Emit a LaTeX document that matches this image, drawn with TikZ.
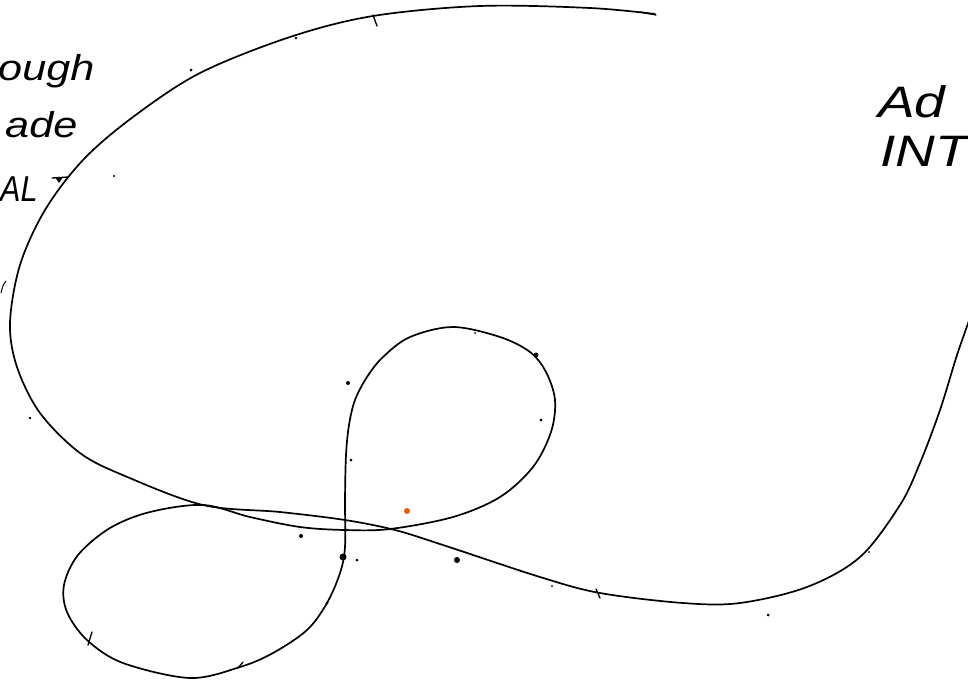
\documentclass[tikz,border=0pt]{standalone}
\usepackage{fontspec}
\setmainfont{Liberation Sans}
\begin{document}
\begin{tikzpicture}[x=1pt,y=-1pt,
  curve/.style={line width=1.7pt, line cap=round, line join=round},
  tickmark/.style={line width=1.3pt, line cap=round},
  hand/.style={inner sep=0pt, font=\itshape\fontsize{36}{40}\selectfont, xscale=1.2},
  handnarrow/.style={inner sep=0pt, font=\itshape\fontsize{36}{40}\selectfont, xscale=0.85},
  handbig/.style={inner sep=0pt, font=\itshape\fontsize{44}{48}\selectfont, xscale=1.25},
  speck/.style={fill=black}]
\clip (0,0) rectangle (968,683);
\fill[white] (0,0) rectangle (968,683);

% outer curve
\draw[curve] plot[smooth, tension=0.55] coordinates {(655,14) (590,8) (480,6) (373,16) (290,37) (200,73) (133,117) (83,160) (45,210) (20,265) (10,323) (17,367) (40,413) (80,453) (125,476) (203,505) (280,512) (345,520) (395,530) (443,545) (540,577) (600,593) (683,603) (740,603) (807,587) (860,557) (900,505) (920,463) (940,410) (957,355) (970,318)};

% figure-eight
\draw[curve] plot[smooth cycle, tension=0.55] coordinates {(203,505) (250,517) (300,527) (345,530) (390,529) (453,517) (500,497) (533,467) (551,432) (555,400) (546,372) (530,352) (500,337) (453,327) (410,337) (383,357) (367,377) (355,400) (349,425) (346,455) (345,500) (345,547) (340,573) (327,603) (307,630) (273,653) (240,667) (190,678) (123,663) (87,640) (67,612) (64,585) (78,555) (110,528) (150,512)};

% ticks
\draw[tickmark] (640,12) -- (656,15);
\draw[tickmark] (373,15) -- (377,26);
\draw[tickmark] (52,178) -- (68,177);
\fill (55,177) -- (63,177) -- (59,183) -- cycle;
\draw[tickmark] (92,632) -- (88,645);
\draw[tickmark] (238,668) -- (243,662);
\draw[tickmark] (596,589) -- (600,598);
\draw[line width=1pt] (6,281) .. controls (3,285) .. (1,293);

% specks
\foreach \p/\r in {(191,70)/1.5, (296,38)/1.3, (114,176)/1.2, (30,418)/1.3, (348,383)/2, (351,460)/1.5, (541,420)/1.5, (475,333)/1, (536,355)/2.5, (301,536)/2, (343,557)/3.5, (357,560)/1.5, (457,560)/3, (552,586)/1, (768,615)/1.5, (869,552)/1, (327,603)/1.5}
  \fill[speck] \p circle (\r pt);
\fill[orange!80!red!90!black] (407,511) circle (3pt);

% texts
\node[hand, anchor=base west] (t1) at (-2,80) {ough};
\node[hand, anchor=base west] (t2) at (5,137) {ade};
\node[handnarrow, anchor=base west] (t3) at (0,201) {AL};
\node[handbig, anchor=base west] (t4) at (878,117) {Ad};
\node[handbig, anchor=base west] (t5) at (880,166) {INT};
\end{tikzpicture}
\end{document}
